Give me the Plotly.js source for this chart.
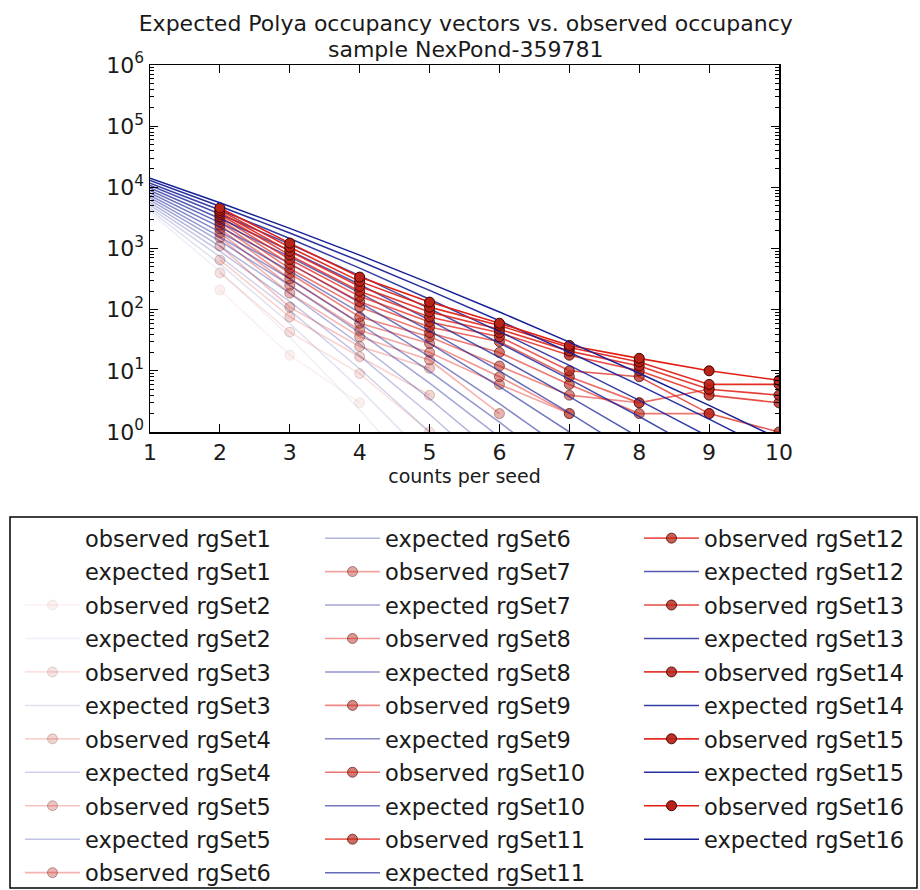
<!DOCTYPE html>
<html><head><meta charset="utf-8">
<script src="https://cdn.plot.ly/plotly-3.0.1.min.js"></script>
<style>html,body{margin:0;padding:0;background:#fff}</style>
</head><body><div id="chart" style="width:920px;height:890px"></div>
<script>
// counts per seed
const xObserved = [2, 3, 4, 5, 6, 7, 8, 9, 10];
const xExpected = [1, 2, 3, 4, 5, 6, 7, 8, 9, 10];

// observed occupancy (null = no point)
const obsRgSet1  = [120, 3, null, null, null, null, null, null, null];
const obsRgSet2  = [210, 18, 3, null, null, null, null, null, null];
const obsRgSet3  = [400, 43, 9, 1, null, null, null, null, null];
const obsRgSet4  = [650, 76, 17, 4, null, null, null, null, null];
const obsRgSet5  = [1100, 110, 25, 11, null, null, null, null, null];
const obsRgSet6  = [1500, 186, 36, 15, 2, null, null, null, null];
const obsRgSet7  = [1800, 250, 46, 20, 6, 2, null, null, null];
const obsRgSet8  = [2100, 320, 60, 28, 8, 2, null, null, null];
const obsRgSet9  = [2400, 390, 76, 36, 12, 4, 3, null, null];
const obsRgSet10 = [2700, 470, 110, 42, 20, 6, 2, 2, null];
const obsRgSet11 = [3000, 560, 135, 52, 30, 8, 3, 5, null];
const obsRgSet12 = [3300, 660, 165, 63, 36, 10, 8, 2, 1];
const obsRgSet13 = [3600, 780, 200, 76, 42, 18, 10, 4, 3];
const obsRgSet14 = [3900, 900, 240, 92, 48, 21, 12, 5, 4];
const obsRgSet15 = [4200, 1050, 290, 110, 55, 24, 14, 6, 6];
const obsRgSet16 = [4600, 1225, 341, 133, 60, 26, 16, 10, 7];

// expected Polya occupancy
const expRgSet1  = [3550, 278, 15.6, 0.627, null, null, null, null, null, null];
const expRgSet2  = [3890, 423, 35.6, 2.32, 0.117, null, null, null, null, null];
const expRgSet3  = [4270, 560, 59.3, 5.08, 0.352, null, null, null, null, null];
const expRgSet4  = [4680, 737, 97.3, 10.8, 1.0, 0.078, null, null, null, null];
const expRgSet5  = [5130, 903, 136, 17.6, 1.95, 0.185, null, null, null, null];
const expRgSet6  = [5620, 1090, 185, 27.2, 3.5, 0.392, null, null, null, null];
const expRgSet7  = [6170, 1320, 250, 42.1, 6.28, 0.83, null, null, null, null];
const expRgSet8  = [6760, 1550, 320, 59.1, 9.79, 1.45, 0.194, null, null, null];
const expRgSet9  = [7410, 1870, 428, 89.1, 16.9, 2.9, 0.454, null, null, null];
const expRgSet10 = [8130, 2230, 564, 131, 28.1, 5.53, 1.0, 0.167, null, null];
const expRgSet11 = [8910, 2650, 732, 188, 44.9, 9.96, 2.05, 0.394, null, null];
const expRgSet12 = [9770, 3100, 924, 258, 67.4, 16.5, 3.79, 0.816, null, null];
const expRgSet13 = [10700, 3660, 1180, 361, 104, 28.5, 7.34, 1.79, 0.411, null];
const expRgSet14 = [11700, 4250, 1460, 477, 148, 43.8, 12.3, 3.28, 0.834, null];
const expRgSet15 = [12900, 4910, 1790, 623, 207, 66.0, 20.1, 5.84, 1.62, 0.431];
const expRgSet16 = [14100, 5600, 2130, 778, 272, 91.6, 29.5, 9.15, 2.72, 0.776];

const setNames = ['rgSet1','rgSet2','rgSet3','rgSet4','rgSet5','rgSet6','rgSet7','rgSet8',
                  'rgSet9','rgSet10','rgSet11','rgSet12','rgSet13','rgSet14','rgSet15','rgSet16'];
const observedSets = [obsRgSet1,obsRgSet2,obsRgSet3,obsRgSet4,obsRgSet5,obsRgSet6,obsRgSet7,obsRgSet8,
                      obsRgSet9,obsRgSet10,obsRgSet11,obsRgSet12,obsRgSet13,obsRgSet14,obsRgSet15,obsRgSet16];
const expectedSets = [expRgSet1,expRgSet2,expRgSet3,expRgSet4,expRgSet5,expRgSet6,expRgSet7,expRgSet8,
                      expRgSet9,expRgSet10,expRgSet11,expRgSet12,expRgSet13,expRgSet14,expRgSet15,expRgSet16];

const titleLine1 = 'Expected Polya occupancy vectors vs. observed occupancy';
const titleLine2 = 'sample NexPond-359781';
const yTickVals = [1, 10, 100, 1000, 10000, 100000, 1000000];
const yTickText = ['10<sup>0</sup>','10<sup>1</sup>','10<sup>2</sup>','10<sup>3</sup>','10<sup>4</sup>','10<sup>5</sup>','10<sup>6</sup>'];
const xTickVals = [1, 2, 3, 4, 5, 6, 7, 8, 9, 10];

const FONT = 'DejaVu Sans, sans-serif';
const TXT = '#1a1a1a';
const legendIds = ['legend', 'legend2', 'legend3'];
const ROWS = 11;

const traces = [];
let item = 0;
setNames.forEach((nm, i) => {
  const a = (i / 15).toFixed(3);
  traces.push({
    x: xObserved, y: observedSets[i], type: 'scatter', mode: 'lines+markers',
    name: 'observed ' + nm, legend: legendIds[Math.floor(item / ROWS)], legendgroup: 'g' + item,
    line: {color: `rgba(225,30,20,${a})`, width: 1.6},
    marker: {size: 10, color: `rgba(185,34,22,${a})`, line: {color: `rgba(60,0,0,${a})`, width: 1}},
    hoverinfo: 'skip'
  });
  item++;
  traces.push({
    x: xExpected, y: expectedSets[i], type: 'scatter', mode: 'lines',
    name: 'expected ' + nm, legend: legendIds[Math.floor(item / ROWS)], legendgroup: 'g' + item,
    line: {color: `rgba(22,32,150,${a})`, width: 1.5},
    hoverinfo: 'skip'
  });
  item++;
});

const minorVals = [];
for (let d = 1; d < 1e6; d *= 10) for (let m = 2; m <= 9; m++) minorVals.push(m * d);

const L = 150, R = 779, T = 65, B = 432;
const pw = R - L, ph = B - T;
const px = v => (v - L) / pw;
const py = v => (B - v) / ph;

function legendCfg(textLeft) {
  return {
    x: px(textLeft - 65), xanchor: 'left', y: py(517), yanchor: 'top',
    orientation: 'v', traceorder: 'grouped', tracegroupgap: 1.2, itemwidth: 55,
    font: {family: FONT, size: 22.5, color: TXT},
    bgcolor: 'rgba(0,0,0,0)', borderwidth: 0, itemclick: false, itemdoubleclick: false
  };
}

const layout = {
  width: 920, height: 890,
  margin: {l: L, r: 920 - R, t: T, b: 890 - B, autoexpand: false},
  paper_bgcolor: '#fff', plot_bgcolor: '#fff',
  font: {family: FONT, color: TXT},
  title: {
    text: titleLine1,
    font: {family: FONT, size: 22, color: TXT},
    x: 0.502, xanchor: 'center', xref: 'paper', y: 1 - 23 / 890, yanchor: 'middle', yref: 'container'
  },
  annotations: [{
    text: titleLine2, showarrow: false, xref: 'paper', yref: 'paper',
    x: 0.502, xanchor: 'center', y: py(50), yanchor: 'middle',
    font: {family: FONT, size: 22, color: TXT}
  }],
  xaxis: {
    range: [1, 10], tickmode: 'array', tickvals: xTickVals,
    ticks: 'inside', ticklen: 8, tickwidth: 1, tickcolor: '#000',
    mirror: 'allticks', showline: true, linecolor: '#000', linewidth: 1.5,
    showgrid: false, zeroline: false,
    tickfont: {family: FONT, size: 22, color: TXT},
    title: {text: 'counts per seed', font: {family: FONT, size: 19, color: TXT}, standoff: 6}
  },
  yaxis: {
    type: 'log', range: [0, 6], tickmode: 'array', tickvals: yTickVals, ticktext: yTickText,
    ticks: 'inside', ticklen: 8, tickwidth: 1, tickcolor: '#000',
    minor: {tickmode: 'array', tickvals: minorVals, ticks: 'inside', ticklen: 4, tickcolor: '#000', showgrid: false},
    mirror: 'allticks', showline: true, linecolor: '#000', linewidth: 1.5,
    showgrid: false, zeroline: false,
    tickfont: {family: FONT, size: 22, color: TXT}
  },
  legend: legendCfg(85),
  legend2: legendCfg(385),
  legend3: legendCfg(704),
  shapes: [{
    type: 'rect', xref: 'paper', yref: 'paper',
    x0: px(10), x1: px(917), y0: py(888), y1: py(517),
    line: {color: '#000', width: 1.5}, fillcolor: 'rgba(0,0,0,0)', layer: 'above'
  }],
  showlegend: true
};

Plotly.newPlot('chart', traces, layout, {displayModeBar: false, staticPlot: true});
</script></body></html>
